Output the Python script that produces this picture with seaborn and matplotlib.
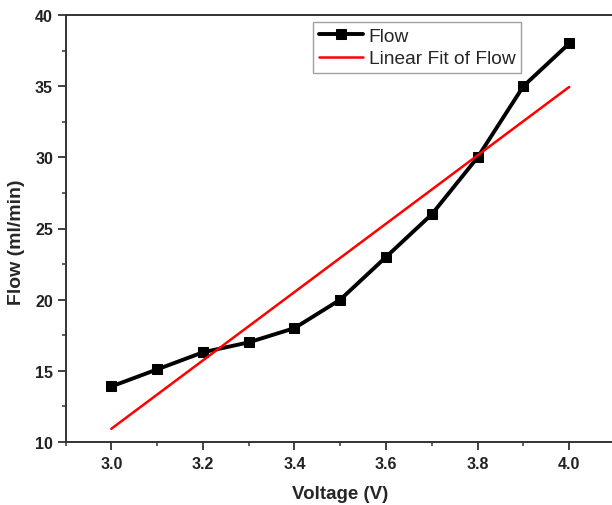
import numpy as np
import pandas as pd
import matplotlib
matplotlib.use("Agg")
import matplotlib.pyplot as plt
import seaborn as sns
from matplotlib.ticker import MultipleLocator

voltage = [3.0, 3.1, 3.2, 3.3, 3.4, 3.5, 3.6, 3.7, 3.8, 3.9, 4.0]
flow = [13.9, 15.1, 16.3, 17.0, 18.0, 20.0, 23.0, 26.0, 30.0, 35.0, 38.0]
x_ticks = [3.0, 3.2, 3.4, 3.6, 3.8, 4.0]
y_ticks = [10, 15, 20, 25, 30, 35, 40]

df = pd.DataFrame({"Voltage (V)": voltage, "Flow (ml/min)": flow})

sns.set_style("ticks")
plt.rcParams['font.family'] = ['Liberation Sans', 'DejaVu Sans']

fig = plt.figure(figsize=(6.12, 5.06), dpi=100)
W, H = 612, 506
ax = fig.add_axes([65.5 / W, 1 - 443 / H, (615 - 65.5) / W, (443 - 16) / H])

sns.lineplot(data=df, x="Voltage (V)", y="Flow (ml/min)", ax=ax, color="black",
             linewidth=2.8, marker="s", markersize=7.5, markeredgecolor="black",
             label="Flow")
sns.regplot(data=df, x="Voltage (V)", y="Flow (ml/min)", ax=ax, scatter=False,
            ci=None, color="#ff0000", line_kws={"linewidth": 1.8},
            label="Linear Fit of Flow")

ax.set_xlim(2.9, 4.1)
ax.set_ylim(10, 40)
ax.set_xticks(x_ticks)
ax.set_yticks(y_ticks)
ax.set_xticklabels([f"{v:.1f}" for v in x_ticks])
ax.xaxis.set_minor_locator(MultipleLocator(0.1))
ax.yaxis.set_minor_locator(MultipleLocator(2.5))
ax.tick_params(which="major", length=6, width=1.3, color="#333333",
               labelsize=11.5, pad=3)
ax.tick_params(axis="x", which="major", pad=4)
ax.tick_params(which="minor", length=3, width=1.1, color="#333333")
for lab in ax.get_xticklabels() + ax.get_yticklabels():
    lab.set_fontweight("bold")
    lab.set_color("#222222")

for s in ["left", "bottom", "top"]:
    ax.spines[s].set_linewidth(1.4)
    ax.spines[s].set_color("#333333")
ax.spines["right"].set_visible(False)

ax.set_xlabel("Voltage (V)", fontsize=13.5, fontweight="bold", labelpad=10.5)
ax.set_ylabel("Flow (ml/min)", fontsize=14, fontweight="bold")
ax.yaxis.set_label_coords(-0.0737, 0.4696)

leg = ax.legend(loc="upper left", bbox_to_anchor=((313 - 65.5) / 549.5, 1 - 7 / 427),
                fontsize=13.8, frameon=True, fancybox=False, handlelength=2.3,
                borderpad=0.3, labelspacing=0.25, handletextpad=0.3,
                borderaxespad=0)
leg.get_frame().set_edgecolor("#888888")
leg.get_frame().set_linewidth(1.0)

fig.savefig("out.png", dpi=100)
